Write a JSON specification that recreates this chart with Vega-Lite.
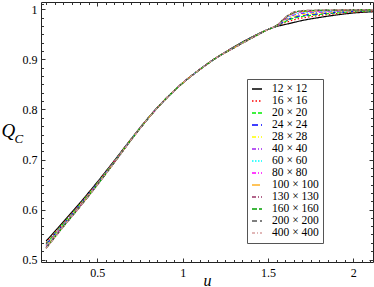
{
"$schema": "https://vega.github.io/schema/vega-lite/v6.json",
"width": 332, "height": 260,
"autosize": "none",
"padding": {"left": 41, "top": 2, "right": 1, "bottom": 25},
"background": "white",
"config": {
 "view": {"stroke": "#222", "strokeWidth": 1},
 "axis": {"domain": false, "grid": false, "labelFont": "Liberation Serif", "labelFontSize": 12, "labelColor": "black", "tickColor": "#333", "tickWidth": 1, "titleFont": "Liberation Serif", "titleFontStyle": "italic", "titleFontWeight": "normal", "titleColor": "black", "labelFlush": false, "labelOverlap": false},
 "legend": {"labelFont": "Liberation Serif", "labelFontSize": 11.5, "labelColor": "black", "symbolType": "stroke", "symbolSize": 100, "symbolStrokeWidth": 1.3, "rowPadding": -0.5, "padding": 4, "strokeColor": "#555", "fillColor": "white", "labelOffset": 9}
},
"datasets": {"d": [
{"L":"12 × 12","u":0.2,"q":0.537},{"L":"12 × 12","u":0.3,"q":0.575},{"L":"12 × 12","u":0.4,"q":0.614},{"L":"12 × 12","u":0.5,"q":0.655},{"L":"12 × 12","u":0.6,"q":0.698},{"L":"12 × 12","u":0.7,"q":0.742},{"L":"12 × 12","u":0.8,"q":0.784},{"L":"12 × 12","u":0.9,"q":0.821},{"L":"12 × 12","u":1.0,"q":0.853},{"L":"12 × 12","u":1.1,"q":0.88},{"L":"12 × 12","u":1.2,"q":0.904},{"L":"12 × 12","u":1.3,"q":0.925},{"L":"12 × 12","u":1.4,"q":0.944},{"L":"12 × 12","u":1.5,"q":0.96},{"L":"12 × 12","u":1.55,"q":0.966},{"L":"12 × 12","u":1.6,"q":0.97},{"L":"12 × 12","u":1.65,"q":0.974},{"L":"12 × 12","u":1.7,"q":0.978},{"L":"12 × 12","u":1.8,"q":0.984},{"L":"12 × 12","u":1.9,"q":0.989},{"L":"12 × 12","u":2.0,"q":0.993},{"L":"12 × 12","u":2.115,"q":0.9955},
{"L":"16 × 16","u":0.2,"q":0.5333},{"L":"16 × 16","u":0.3,"q":0.5725},{"L":"16 × 16","u":0.4,"q":0.612},{"L":"16 × 16","u":0.5,"q":0.6535},{"L":"16 × 16","u":0.6,"q":0.697},{"L":"16 × 16","u":0.7,"q":0.7415},{"L":"16 × 16","u":0.8,"q":0.7838},{"L":"16 × 16","u":0.9,"q":0.821},{"L":"16 × 16","u":1.0,"q":0.853},{"L":"16 × 16","u":1.1,"q":0.88},{"L":"16 × 16","u":1.2,"q":0.904},{"L":"16 × 16","u":1.3,"q":0.9245},{"L":"16 × 16","u":1.4,"q":0.9435},{"L":"16 × 16","u":1.5,"q":0.96},{"L":"16 × 16","u":1.55,"q":0.9665},{"L":"16 × 16","u":1.6,"q":0.9735},{"L":"16 × 16","u":1.65,"q":0.9793},{"L":"16 × 16","u":1.7,"q":0.983},{"L":"16 × 16","u":1.8,"q":0.9878},{"L":"16 × 16","u":1.9,"q":0.9916},{"L":"16 × 16","u":2.0,"q":0.9946},{"L":"16 × 16","u":2.115,"q":0.9965},
{"L":"20 × 20","u":0.2,"q":0.531},{"L":"20 × 20","u":0.3,"q":0.571},{"L":"20 × 20","u":0.4,"q":0.6108},{"L":"20 × 20","u":0.5,"q":0.6526},{"L":"20 × 20","u":0.6,"q":0.6964},{"L":"20 × 20","u":0.7,"q":0.7412},{"L":"20 × 20","u":0.8,"q":0.7836},{"L":"20 × 20","u":0.9,"q":0.821},{"L":"20 × 20","u":1.0,"q":0.853},{"L":"20 × 20","u":1.1,"q":0.88},{"L":"20 × 20","u":1.2,"q":0.904},{"L":"20 × 20","u":1.3,"q":0.9242},{"L":"20 × 20","u":1.4,"q":0.9432},{"L":"20 × 20","u":1.5,"q":0.96},{"L":"20 × 20","u":1.55,"q":0.9668},{"L":"20 × 20","u":1.6,"q":0.9756},{"L":"20 × 20","u":1.65,"q":0.9824},{"L":"20 × 20","u":1.7,"q":0.986},{"L":"20 × 20","u":1.8,"q":0.99},{"L":"20 × 20","u":1.9,"q":0.9931},{"L":"20 × 20","u":2.0,"q":0.9956},{"L":"20 × 20","u":2.115,"q":0.9971},
{"L":"24 × 24","u":0.2,"q":0.5295},{"L":"24 × 24","u":0.3,"q":0.57},{"L":"24 × 24","u":0.4,"q":0.61},{"L":"24 × 24","u":0.5,"q":0.652},{"L":"24 × 24","u":0.6,"q":0.696},{"L":"24 × 24","u":0.7,"q":0.741},{"L":"24 × 24","u":0.8,"q":0.7835},{"L":"24 × 24","u":0.9,"q":0.821},{"L":"24 × 24","u":1.0,"q":0.853},{"L":"24 × 24","u":1.1,"q":0.88},{"L":"24 × 24","u":1.2,"q":0.904},{"L":"24 × 24","u":1.3,"q":0.924},{"L":"24 × 24","u":1.4,"q":0.943},{"L":"24 × 24","u":1.5,"q":0.96},{"L":"24 × 24","u":1.55,"q":0.967},{"L":"24 × 24","u":1.6,"q":0.977},{"L":"24 × 24","u":1.65,"q":0.9845},{"L":"24 × 24","u":1.7,"q":0.988},{"L":"24 × 24","u":1.8,"q":0.9915},{"L":"24 × 24","u":1.9,"q":0.9942},{"L":"24 × 24","u":2.0,"q":0.9963},{"L":"24 × 24","u":2.115,"q":0.9975},
{"L":"28 × 28","u":0.2,"q":0.5283},{"L":"28 × 28","u":0.3,"q":0.5692},{"L":"28 × 28","u":0.4,"q":0.6094},{"L":"28 × 28","u":0.5,"q":0.6515},{"L":"28 × 28","u":0.6,"q":0.6957},{"L":"28 × 28","u":0.7,"q":0.7408},{"L":"28 × 28","u":0.8,"q":0.7834},{"L":"28 × 28","u":0.9,"q":0.821},{"L":"28 × 28","u":1.0,"q":0.853},{"L":"28 × 28","u":1.1,"q":0.88},{"L":"28 × 28","u":1.2,"q":0.904},{"L":"28 × 28","u":1.3,"q":0.9238},{"L":"28 × 28","u":1.4,"q":0.9428},{"L":"28 × 28","u":1.5,"q":0.96},{"L":"28 × 28","u":1.55,"q":0.9672},{"L":"28 × 28","u":1.6,"q":0.9781},{"L":"28 × 28","u":1.65,"q":0.9862},{"L":"28 × 28","u":1.7,"q":0.9896},{"L":"28 × 28","u":1.8,"q":0.9927},{"L":"28 × 28","u":1.9,"q":0.995},{"L":"28 × 28","u":2.0,"q":0.9968},{"L":"28 × 28","u":2.115,"q":0.9978},
{"L":"40 × 40","u":0.2,"q":0.5265},{"L":"40 × 40","u":0.3,"q":0.568},{"L":"40 × 40","u":0.4,"q":0.6084},{"L":"40 × 40","u":0.5,"q":0.6508},{"L":"40 × 40","u":0.6,"q":0.6952},{"L":"40 × 40","u":0.7,"q":0.7406},{"L":"40 × 40","u":0.8,"q":0.7833},{"L":"40 × 40","u":0.9,"q":0.821},{"L":"40 × 40","u":1.0,"q":0.853},{"L":"40 × 40","u":1.1,"q":0.88},{"L":"40 × 40","u":1.2,"q":0.904},{"L":"40 × 40","u":1.3,"q":0.9236},{"L":"40 × 40","u":1.4,"q":0.9426},{"L":"40 × 40","u":1.5,"q":0.96},{"L":"40 × 40","u":1.55,"q":0.9674},{"L":"40 × 40","u":1.6,"q":0.9798},{"L":"40 × 40","u":1.65,"q":0.9887},{"L":"40 × 40","u":1.7,"q":0.992},{"L":"40 × 40","u":1.8,"q":0.9945},{"L":"40 × 40","u":1.9,"q":0.9962},{"L":"40 × 40","u":2.0,"q":0.9976},{"L":"40 × 40","u":2.115,"q":0.9983},
{"L":"60 × 60","u":0.2,"q":0.525},{"L":"60 × 60","u":0.3,"q":0.567},{"L":"60 × 60","u":0.4,"q":0.6076},{"L":"60 × 60","u":0.5,"q":0.6502},{"L":"60 × 60","u":0.6,"q":0.6948},{"L":"60 × 60","u":0.7,"q":0.7404},{"L":"60 × 60","u":0.8,"q":0.7832},{"L":"60 × 60","u":0.9,"q":0.821},{"L":"60 × 60","u":1.0,"q":0.853},{"L":"60 × 60","u":1.1,"q":0.88},{"L":"60 × 60","u":1.2,"q":0.904},{"L":"60 × 60","u":1.3,"q":0.9234},{"L":"60 × 60","u":1.4,"q":0.9424},{"L":"60 × 60","u":1.5,"q":0.96},{"L":"60 × 60","u":1.55,"q":0.9676},{"L":"60 × 60","u":1.6,"q":0.9812},{"L":"60 × 60","u":1.65,"q":0.9908},{"L":"60 × 60","u":1.7,"q":0.994},{"L":"60 × 60","u":1.8,"q":0.996},{"L":"60 × 60","u":1.9,"q":0.9972},{"L":"60 × 60","u":2.0,"q":0.9982},{"L":"60 × 60","u":2.115,"q":0.9987},
{"L":"80 × 80","u":0.2,"q":0.5241},{"L":"80 × 80","u":0.3,"q":0.5664},{"L":"80 × 80","u":0.4,"q":0.6071},{"L":"80 × 80","u":0.5,"q":0.6498},{"L":"80 × 80","u":0.6,"q":0.6946},{"L":"80 × 80","u":0.7,"q":0.7403},{"L":"80 × 80","u":0.8,"q":0.7831},{"L":"80 × 80","u":0.9,"q":0.821},{"L":"80 × 80","u":1.0,"q":0.853},{"L":"80 × 80","u":1.1,"q":0.88},{"L":"80 × 80","u":1.2,"q":0.904},{"L":"80 × 80","u":1.3,"q":0.9233},{"L":"80 × 80","u":1.4,"q":0.9423},{"L":"80 × 80","u":1.5,"q":0.96},{"L":"80 × 80","u":1.55,"q":0.9677},{"L":"80 × 80","u":1.6,"q":0.982},{"L":"80 × 80","u":1.65,"q":0.9921},{"L":"80 × 80","u":1.7,"q":0.9952},{"L":"80 × 80","u":1.8,"q":0.9969},{"L":"80 × 80","u":1.9,"q":0.9979},{"L":"80 × 80","u":2.0,"q":0.9986},{"L":"80 × 80","u":2.115,"q":0.9989},
{"L":"100 × 100","u":0.2,"q":0.5235},{"L":"100 × 100","u":0.3,"q":0.566},{"L":"100 × 100","u":0.4,"q":0.6068},{"L":"100 × 100","u":0.5,"q":0.6496},{"L":"100 × 100","u":0.6,"q":0.6944},{"L":"100 × 100","u":0.7,"q":0.7402},{"L":"100 × 100","u":0.8,"q":0.7831},{"L":"100 × 100","u":0.9,"q":0.821},{"L":"100 × 100","u":1.0,"q":0.853},{"L":"100 × 100","u":1.1,"q":0.88},{"L":"100 × 100","u":1.2,"q":0.904},{"L":"100 × 100","u":1.3,"q":0.9232},{"L":"100 × 100","u":1.4,"q":0.9422},{"L":"100 × 100","u":1.5,"q":0.96},{"L":"100 × 100","u":1.55,"q":0.9678},{"L":"100 × 100","u":1.6,"q":0.9826},{"L":"100 × 100","u":1.65,"q":0.9929},{"L":"100 × 100","u":1.7,"q":0.996},{"L":"100 × 100","u":1.8,"q":0.9975},{"L":"100 × 100","u":1.9,"q":0.9983},{"L":"100 × 100","u":2.0,"q":0.9989},{"L":"100 × 100","u":2.115,"q":0.9991},
{"L":"130 × 130","u":0.2,"q":0.5229},{"L":"130 × 130","u":0.3,"q":0.5656},{"L":"130 × 130","u":0.4,"q":0.6065},{"L":"130 × 130","u":0.5,"q":0.6494},{"L":"130 × 130","u":0.6,"q":0.6942},{"L":"130 × 130","u":0.7,"q":0.7401},{"L":"130 × 130","u":0.8,"q":0.7831},{"L":"130 × 130","u":0.9,"q":0.821},{"L":"130 × 130","u":1.0,"q":0.853},{"L":"130 × 130","u":1.1,"q":0.88},{"L":"130 × 130","u":1.2,"q":0.904},{"L":"130 × 130","u":1.3,"q":0.9231},{"L":"130 × 130","u":1.4,"q":0.9421},{"L":"130 × 130","u":1.5,"q":0.96},{"L":"130 × 130","u":1.55,"q":0.9679},{"L":"130 × 130","u":1.6,"q":0.9832},{"L":"130 × 130","u":1.65,"q":0.9937},{"L":"130 × 130","u":1.7,"q":0.9968},{"L":"130 × 130","u":1.8,"q":0.9981},{"L":"130 × 130","u":1.9,"q":0.9987},{"L":"130 × 130","u":2.0,"q":0.9991},{"L":"130 × 130","u":2.115,"q":0.9993},
{"L":"160 × 160","u":0.2,"q":0.5226},{"L":"160 × 160","u":0.3,"q":0.5654},{"L":"160 × 160","u":0.4,"q":0.6063},{"L":"160 × 160","u":0.5,"q":0.6492},{"L":"160 × 160","u":0.6,"q":0.6942},{"L":"160 × 160","u":0.7,"q":0.7401},{"L":"160 × 160","u":0.8,"q":0.783},{"L":"160 × 160","u":0.9,"q":0.821},{"L":"160 × 160","u":1.0,"q":0.853},{"L":"160 × 160","u":1.1,"q":0.88},{"L":"160 × 160","u":1.2,"q":0.904},{"L":"160 × 160","u":1.3,"q":0.9231},{"L":"160 × 160","u":1.4,"q":0.9421},{"L":"160 × 160","u":1.5,"q":0.96},{"L":"160 × 160","u":1.55,"q":0.9679},{"L":"160 × 160","u":1.6,"q":0.9834},{"L":"160 × 160","u":1.65,"q":0.9942},{"L":"160 × 160","u":1.7,"q":0.9972},{"L":"160 × 160","u":1.8,"q":0.9984},{"L":"160 × 160","u":1.9,"q":0.9989},{"L":"160 × 160","u":2.0,"q":0.9992},{"L":"160 × 160","u":2.115,"q":0.9993},
{"L":"200 × 200","u":0.2,"q":0.5223},{"L":"200 × 200","u":0.3,"q":0.5652},{"L":"200 × 200","u":0.4,"q":0.6062},{"L":"200 × 200","u":0.5,"q":0.6491},{"L":"200 × 200","u":0.6,"q":0.6941},{"L":"200 × 200","u":0.7,"q":0.74},{"L":"200 × 200","u":0.8,"q":0.783},{"L":"200 × 200","u":0.9,"q":0.821},{"L":"200 × 200","u":1.0,"q":0.853},{"L":"200 × 200","u":1.1,"q":0.88},{"L":"200 × 200","u":1.2,"q":0.904},{"L":"200 × 200","u":1.3,"q":0.923},{"L":"200 × 200","u":1.4,"q":0.942},{"L":"200 × 200","u":1.5,"q":0.96},{"L":"200 × 200","u":1.55,"q":0.968},{"L":"200 × 200","u":1.6,"q":0.9837},{"L":"200 × 200","u":1.65,"q":0.9946},{"L":"200 × 200","u":1.7,"q":0.9976},{"L":"200 × 200","u":1.8,"q":0.9987},{"L":"200 × 200","u":1.9,"q":0.9991},{"L":"200 × 200","u":2.0,"q":0.9994},{"L":"200 × 200","u":2.115,"q":0.9994},
{"L":"400 × 400","u":0.2,"q":0.522},{"L":"400 × 400","u":0.3,"q":0.565},{"L":"400 × 400","u":0.4,"q":0.606},{"L":"400 × 400","u":0.5,"q":0.649},{"L":"400 × 400","u":0.6,"q":0.694},{"L":"400 × 400","u":0.7,"q":0.74},{"L":"400 × 400","u":0.8,"q":0.783},{"L":"400 × 400","u":0.9,"q":0.821},{"L":"400 × 400","u":1.0,"q":0.853},{"L":"400 × 400","u":1.1,"q":0.88},{"L":"400 × 400","u":1.2,"q":0.904},{"L":"400 × 400","u":1.3,"q":0.923},{"L":"400 × 400","u":1.4,"q":0.942},{"L":"400 × 400","u":1.5,"q":0.96},{"L":"400 × 400","u":1.55,"q":0.968},{"L":"400 × 400","u":1.6,"q":0.984},{"L":"400 × 400","u":1.65,"q":0.995},{"L":"400 × 400","u":1.7,"q":0.998},{"L":"400 × 400","u":1.8,"q":0.999},{"L":"400 × 400","u":1.9,"q":0.9993},{"L":"400 × 400","u":2.0,"q":0.9995},{"L":"400 × 400","u":2.115,"q":0.9995}
]},
"data": {"name": "d"},
"layer": [
 {
  "mark": {"type": "line", "strokeWidth": 1.2, "interpolate": "monotone", "clip": true},
  "encoding": {
   "x": {"field": "u", "type": "quantitative", "scale": {"domain": [0.17, 2.115], "nice": false, "zero": false},
     "axis": {"orient": "bottom", "values": [0.5, 1, 1.5, 2], "format": "~g", "ticks": false, "labelPadding": 5, "title": "u", "titleFontSize": 16, "titleX": 166, "titleY": 23, "titleAlign": "center", "titleBaseline": "alphabetic"}},
   "y": {"field": "q", "type": "quantitative", "scale": {"domain": [0.495, 1.015], "nice": false, "zero": false},
     "axis": {"orient": "left", "values": [0.5, 0.6, 0.7, 0.8, 0.9, 1], "format": "~g", "ticks": false, "labelPadding": 4, "title": "Q", "titleFontSize": 19, "titleAngle": 0, "titleX": -40, "titleY": 134, "titleAlign": "left", "titleBaseline": "alphabetic"}},
   "color": {"field": "L", "type": "nominal", "title": null,
     "scale": {"domain": ["12 × 12","16 × 16","20 × 20","24 × 24","28 × 28","40 × 40","60 × 60","80 × 80","100 × 100","130 × 130","160 × 160","200 × 200","400 × 400"],
               "range": ["#000000","#ff0000","#00ee00","#0000ff","#ffff00","#a020f0","#00ffff","#ff00ff","#ffa500","#993366","#00a000","#555555","#d8a0a0"]},
     "legend": {"orient": "none", "legendX": 206, "legendY": 77}},
   "strokeDash": {"field": "L", "type": "nominal", "title": null,
     "scale": {"domain": ["12 × 12","16 × 16","20 × 20","24 × 24","28 × 28","40 × 40","60 × 60","80 × 80","100 × 100","130 × 130","160 × 160","200 × 200","400 × 400"],
               "range": [[1,0],[1.5,2],[4,2],[6,3],[4,2,1,2],[4,2,1,2],[1.5,1.5],[4,2,1,2],[8,3],[4,2,1,2],[5,2],[5,3],[3,2,1,2]]},
     "legend": {"orient": "none", "legendX": 206, "legendY": 77}}
  }
 },
 {
  "mark": {"type": "point", "opacity": 0},
  "encoding": {
   "x": {"field": "u", "type": "quantitative", "scale": {"domain": [0.17, 2.115], "nice": false, "zero": false},
     "axis": {"orient": "bottom", "values": [0.5, 1, 1.5, 2], "labels": false, "tickSize": -4, "title": null}},
   "y": {"field": "q", "type": "quantitative", "scale": {"domain": [0.495, 1.015], "nice": false, "zero": false},
     "axis": {"orient": "left", "values": [0.5, 0.6, 0.7, 0.8, 0.9, 1], "labels": false, "tickSize": -4, "title": "C", "titleFontSize": 13, "titleAngle": 0, "titleX": -27, "titleY": 140, "titleAlign": "left", "titleBaseline": "alphabetic"}}
  }
 },
 {
  "mark": {"type": "point", "opacity": 0},
  "encoding": {
   "x": {"field": "u", "type": "quantitative", "scale": {"domain": [0.17, 2.115], "nice": false, "zero": false},
     "axis": {"orient": "bottom", "values": [0.2,0.25,0.3,0.35,0.4,0.45,0.55,0.6,0.65,0.7,0.75,0.8,0.85,0.9,0.95,1.05,1.1,1.15,1.2,1.25,1.3,1.35,1.4,1.45,1.55,1.6,1.65,1.7,1.75,1.8,1.85,1.9,1.95,2.05,2.1], "labels": false, "tickSize": -2.5, "title": null}},
   "y": {"field": "q", "type": "quantitative", "scale": {"domain": [0.495, 1.015], "nice": false, "zero": false},
     "axis": {"orient": "left", "values": [0.51667,0.53333,0.55,0.56667,0.58333,0.61667,0.63333,0.65,0.66667,0.68333,0.71667,0.73333,0.75,0.76667,0.78333,0.81667,0.83333,0.85,0.86667,0.88333,0.91667,0.93333,0.95,0.96667,0.98333,1.01], "labels": false, "tickSize": -2.5, "title": null}}
  }
 },
 {
  "mark": {"type": "point", "opacity": 0},
  "encoding": {
   "x": {"field": "u", "type": "quantitative", "scale": {"domain": [0.17, 2.115], "nice": false, "zero": false},
     "axis": {"orient": "top", "values": [0.5, 1, 1.5, 2], "labels": false, "tickSize": -4, "title": null}},
   "y": {"field": "q", "type": "quantitative", "scale": {"domain": [0.495, 1.015], "nice": false, "zero": false},
     "axis": {"orient": "right", "values": [0.5, 0.6, 0.7, 0.8, 0.9, 1], "labels": false, "tickSize": -4, "title": null}}
  }
 },
 {
  "mark": {"type": "point", "opacity": 0},
  "encoding": {
   "x": {"field": "u", "type": "quantitative", "scale": {"domain": [0.17, 2.115], "nice": false, "zero": false},
     "axis": {"orient": "top", "values": [0.2,0.25,0.3,0.35,0.4,0.45,0.55,0.6,0.65,0.7,0.75,0.8,0.85,0.9,0.95,1.05,1.1,1.15,1.2,1.25,1.3,1.35,1.4,1.45,1.55,1.6,1.65,1.7,1.75,1.8,1.85,1.9,1.95,2.05,2.1], "labels": false, "tickSize": -2.5, "title": null}},
   "y": {"field": "q", "type": "quantitative", "scale": {"domain": [0.495, 1.015], "nice": false, "zero": false},
     "axis": {"orient": "right", "values": [0.51667,0.53333,0.55,0.56667,0.58333,0.61667,0.63333,0.65,0.66667,0.68333,0.71667,0.73333,0.75,0.76667,0.78333,0.81667,0.83333,0.85,0.86667,0.88333,0.91667,0.93333,0.95,0.96667,0.98333], "labels": false, "tickSize": -2.5, "title": null}}
  }
 }
],
"resolve": {"axis": {"x": "independent", "y": "independent"}}
}
